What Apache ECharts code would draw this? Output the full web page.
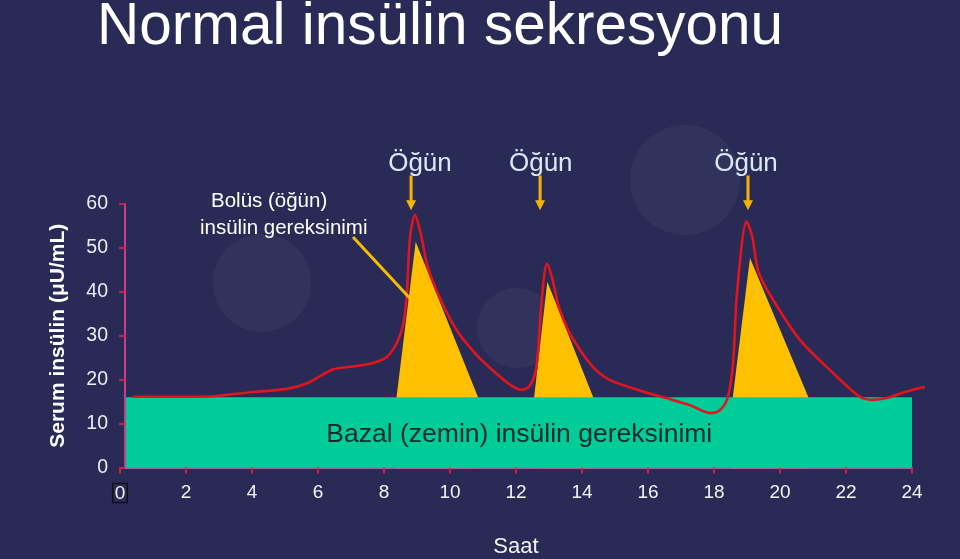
<!DOCTYPE html>
<html>
<head>
<meta charset="utf-8">
<script src="https://cdn.jsdelivr.net/npm/echarts@6/dist/echarts.min.js"></script>
<style>
html,body{margin:0;padding:0;background:#292a56;}
#c{width:960px;height:559px;}
</style>
</head>
<body>
<div id="c"></div>
<script>
// ---- data ----
var xTicks = [0, 2, 4, 6, 8, 10, 12, 14, 16, 18, 20, 22, 24];
var yTicks = [0, 10, 20, 30, 40, 50, 60];
var basal = [[0.18, 16], [24.04, 16]];
var bolus1 = [[8.38, 16], [8.96, 51.4], [10.85, 16]];
var bolus2 = [[12.55, 16], [12.95, 42.3], [14.34, 16]];
var bolus3 = [[18.57, 16], [19.09, 47.7], [20.86, 16]];
var insulin = [
  [0.39, 16.1], [2.52, 16.1], [4.03, 17.2], [5.06, 17.9], [5.67, 19.2], [6.45, 22.3],
  [7.06, 23.0], [7.67, 23.8], [8.09, 25.2], [8.39, 28.4], [8.58, 32.5], [8.69, 39.5],
  [8.79, 52.5], [8.94, 57.5], [9.12, 53.0], [9.33, 45.5], [9.70, 38.5], [10.20, 31.3],
  [10.81, 25.6], [11.42, 21.3], [11.91, 18.4], [12.17, 17.7], [12.42, 18.6], [12.62, 23.0],
  [12.78, 38.2], [12.94, 46.4], [13.10, 43.0], [13.30, 36.5], [13.60, 31.0],
  [14.03, 25.8], [14.45, 22.0], [14.85, 19.9], [15.76, 17.5], [16.57, 15.8], [17.27, 14.2],
  [17.88, 12.4], [18.18, 13.1], [18.42, 16.0], [18.58, 24.0], [18.70, 40.0],
  [18.99, 56.0], [19.16, 52.5], [19.35, 44.5], [19.79, 38.2], [20.61, 29.0], [21.61, 21.5],
  [22.42, 16.1], [22.82, 15.4], [23.23, 15.8], [23.84, 17.3], [24.39, 18.4]
];
var mealTimes = [8.82, 12.73, 19.03];
var mealLabelTimes = [9.09, 12.75, 18.97];
var mealLabel = 'Öğün';
var arrowTop = 66.5, arrowTip = 58.6, mealLabelY = 69.1;
var curveMaxX = 24.4;

var chart = echarts.init(document.getElementById('c'), null, {renderer: 'canvas'});
var FONT = 'Liberation Sans, Arial, sans-serif';

function tri(d) {
  return {
    type: 'line', data: d, showSymbol: false, symbol: 'none', z: 2,
    lineStyle: {width: 0, color: '#ffc000'},
    areaStyle: {color: '#ffc000', opacity: 1},
    silent: true
  };
}

var option = {
  backgroundColor: '#292a56',
  animation: false,
  grid: [
    {left: 120, right: 48, top: 204, bottom: 91.5},
    {left: 120, right: 34.8, top: 204, bottom: 91.5}
  ],
  xAxis: [{
    type: 'value', min: 0, max: 24, interval: 2, gridIndex: 0,
    name: 'Saat', nameLocation: 'middle', nameGap: 68,
    nameTextStyle: {color: '#f2f2f2', fontSize: 22, fontFamily: FONT},
    axisLine: {show: true, onZero: false, lineStyle: {color: '#8e6e9e', width: 2}},
    axisTick: {show: true, length: 6, lineStyle: {color: '#d0203c', width: 2}},
    axisLabel: {
      color: '#f2f2f2', fontSize: 19, fontFamily: FONT, margin: 16,
      formatter: function (v) { return v === 0 ? '{b|0}' : String(v); },
      rich: {b: {color: '#f2f2f2', fontSize: 19, fontFamily: FONT, borderColor: '#111', borderWidth: 1.5, padding: [1, 2, -1, 2]}}
    },
    splitLine: {show: false}
  }, {
    type: 'value', min: 0, max: curveMaxX, gridIndex: 1, show: false
  }],
  yAxis: [{
    type: 'value', min: 0, max: 60, interval: 10, offset: -5, gridIndex: 0,
    name: 'Serum insülin (μU/mL)', nameLocation: 'middle', nameGap: 56,
    nameTextStyle: {color: '#ffffff', fontSize: 21, fontWeight: 'bold', fontFamily: FONT},
    axisLine: {show: true, lineStyle: {color: '#c83c8c', width: 2}},
    axisTick: {show: true, length: 6, lineStyle: {color: '#d0203c', width: 2}},
    axisLabel: {color: '#ececf2', fontSize: 19.5, fontFamily: FONT, margin: 17},
    splitLine: {show: false}
  }, {
    type: 'value', min: 0, max: 60, gridIndex: 1, show: false
  }],
  series: [
    tri(bolus1), tri(bolus2), tri(bolus3),
    {
      type: 'line', data: basal, showSymbol: false, symbol: 'none', z: 3,
      lineStyle: {width: 0, color: '#00cc99'},
      areaStyle: {color: '#00cc99', opacity: 1}, silent: true
    },
    {
      type: 'line', data: insulin, showSymbol: false, symbol: 'none', z: 4,
      xAxisIndex: 1, yAxisIndex: 1,
      smooth: 0.3,
      lineStyle: {width: 2.6, color: '#e3141e'}, silent: true
    }
  ]
};
chart.setOption(option);

// ---- annotations (positioned from data coordinates) ----
function px(x, y) { return chart.convertToPixel({gridIndex: 0}, [x, y]); }
var g = [];
// decorative background circles
[[262, 283, 49], [517, 328, 40], [685, 180, 55]].forEach(function (c) {
  g.push({type: 'circle', shape: {cx: c[0], cy: c[1], r: c[2]}, style: {fill: 'rgba(255,255,255,0.045)'}, z: -10, silent: true});
});
// title
g.push({type: 'text', x: 97, y: 28, style: {
  text: 'Normal insülin sekresyonu', fill: '#ffffff',
  font: '58.5px "Liberation Sans Narrow", "Liberation Sans", sans-serif',
  verticalAlign: 'middle', align: 'left',
  shadowColor: 'rgba(0,0,0,0.7)', shadowBlur: 2, shadowOffsetX: 2, shadowOffsetY: 2
}, z: 10});
// meal arrows & labels
mealTimes.forEach(function (t, i) {
  var top = px(t, arrowTop), tip = px(t, arrowTip);
  g.push({type: 'line', shape: {x1: top[0], y1: top[1], x2: tip[0], y2: tip[1] - 8}, style: {stroke: '#f2b400', lineWidth: 3}, z: 10});
  g.push({type: 'polygon', shape: {points: [[tip[0] - 5, tip[1] - 10], [tip[0] + 5, tip[1] - 10], [tip[0], tip[1]]]}, style: {fill: '#f2b400'}, z: 10});
  var lp = px(mealLabelTimes[i], mealLabelY);
  g.push({type: 'text', x: lp[0], y: lp[1], style: {
    text: mealLabel, fill: '#dbe8f6', font: '26px ' + FONT, align: 'center', verticalAlign: 'middle',
    shadowColor: 'rgba(0,0,0,0.6)', shadowBlur: 2, shadowOffsetX: 1, shadowOffsetY: 1
  }, z: 10});
});
// bolus annotation
var a1 = px(7.06, 52.5), a2 = px(8.79, 38.5);
g.push({type: 'line', shape: {x1: a1[0], y1: a1[1], x2: a2[0], y2: a2[1]}, style: {stroke: '#f2c000', lineWidth: 3}, z: 5});
g.push({type: 'text', x: 211, y: 201, style: {text: 'Bolüs (öğün)', fill: '#ffffff', font: '20.5px ' + FONT, align: 'left', verticalAlign: 'middle'}, z: 10});
g.push({type: 'text', x: 200, y: 228, style: {text: 'insülin gereksinimi', fill: '#ffffff', font: '20.5px ' + FONT, align: 'left', verticalAlign: 'middle'}, z: 10});
// basal label
var bp = px(12.1, 7.4);
g.push({type: 'text', x: bp[0], y: bp[1], style: {
  text: 'Bazal (zemin) insülin gereksinimi', fill: '#0b2a2c', font: '26.5px ' + FONT, align: 'center', verticalAlign: 'middle',
  shadowColor: 'rgba(0,0,0,0.35)', shadowBlur: 2, shadowOffsetX: 1, shadowOffsetY: 1
}, z: 10});
chart.setOption({graphic: {elements: g}});
</script>
</body>
</html>
